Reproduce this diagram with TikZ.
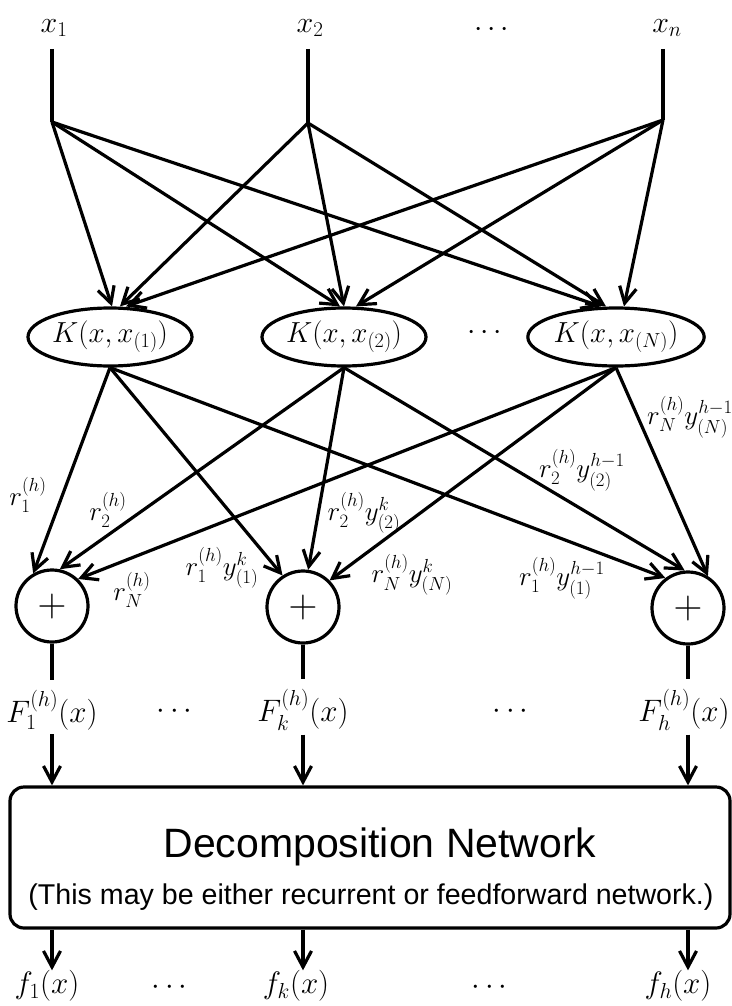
\RequirePackage{fix-cm}
\documentclass[tikz,border=0pt]{standalone}
\usepackage{amsmath}
\usepackage{fontspec}
\newfontfamily\netfont{Liberation Sans}
\usetikzlibrary{arrows.meta,shapes.geometric}

\tikzset{
  net/.style={line width=3.2pt},
  arr/.style={net,-{Straight Barb[length=16pt,width=17pt]}},
  kernel/.style={draw,ellipse,net,minimum width=164pt,minimum height=58pt,inner sep=0pt,font=\fontsize{29}{32}\selectfont},
  adder/.style={draw,circle,net,minimum size=72pt,inner sep=0pt,font=\fontsize{40}{44}\selectfont},
  inlab/.style={inner sep=0pt,font=\fontsize{30}{34}\selectfont},
  wlab/.style={inner sep=0pt,font=\fontsize{27}{30}\selectfont},
  outlab/.style={inner sep=0pt,font=\fontsize{31}{34}\selectfont},
  decnet/.style={draw,net,rounded corners=14pt,minimum width=720pt,minimum height=141pt},
}

\begin{document}
\begin{tikzpicture}[x=1pt,y=-1pt]
\useasboundingbox (0,0) rectangle (731,1006);

% inputs
\node[inlab] (in1) at (54,28) {$x_1$};
\node[inlab] (in2) at (310,28) {$x_2$};
\node[inlab] (indots) at (494,30) {$\cdots$};
\node[inlab] (inn) at (667,28) {$x_n$};
\coordinate (s1) at (52,122);
\coordinate (s2) at (308,123);
\coordinate (sn) at (663,120);
\draw[net,shorten <=12pt] (in1.south -| s1) -- (s1);
\draw[net,shorten <=12pt] (in2.south -| s2) -- (s2);
\draw[net,shorten <=12pt] (inn.south -| sn) -- (sn);

% kernels
\node[kernel] (k1) at (110,337) {$K(x,x_{(1)})$};
\node[kernel] (k2) at (344,337) {$K(x,x_{(2)})$};
\node[inlab] (kdots) at (487,333) {$\cdots$};
\node[kernel] (kn) at (616,337) {$K(x,x_{(N)})$};

\foreach \s/\a/\b/\c in {s1/2/-4/-15, s2/10/0/-10, sn/16/12/8}{
  \draw[arr] (\s) -- ([xshift=\a pt]k1.north);
  \draw[arr] (\s) -- ([xshift=\b pt]k2.north);
  \draw[arr] (\s) -- ([xshift=\c pt]kn.north);
}

% adders
\node[adder] (p1) at (52,606) {$+$};
\node[adder] (p2) at (303,607) {$+$};
\node[adder] (p3) at (688,608) {$+$};

\draw[arr] (k1.south) -- (p1.120);
\draw[arr] (k1.south) -- (p2.123);
\draw[arr] (k1.south) -- (p3.127);
\draw[arr] (k2.south) -- (p1.78);
\draw[arr] (k2.south) -- (p2.82);
\draw[arr] (k2.south) -- (p3.95);
\draw[arr] (kn.south) -- (p1.46);
\draw[arr] (kn.south) -- (p2.45);
\draw[arr] (kn.south) -- (p3.58);

% weights
\node[wlab] (w11) at (28,495) {$r_1^{(h)}$};
\node[wlab] (w21) at (108,510) {$r_2^{(h)}$};
\node[wlab] (wn1) at (132,590) {$r_N^{(h)}$};
\node[wlab] (w12) at (222,568) {$r_1^{(h)}y_{(1)}^k$};
\node[wlab] (w22) at (364,513) {$r_2^{(h)}y_{(2)}^k$};
\node[wlab] (wn2) at (412,575) {$r_N^{(h)}y_{(N)}^k$};
\node[wlab] (w13) at (562,578) {$r_1^{(h)}y_{(1)}^{h-1}$};
\node[wlab] (w23) at (582,470) {$r_2^{(h)}y_{(2)}^{h-1}$};
\node[wlab] (wn3) at (690,417) {$r_N^{(h)}y_{(N)}^{h-1}$};

% sums
\node[outlab] (F1) at (52,710) {$F_1^{(h)}(x)$};
\node[outlab] (Fdots1) at (177,712) {$\cdots$};
\node[outlab] (Fk) at (303,710) {$F_k^{(h)}(x)$};
\node[outlab] (Fdots2) at (513,712) {$\cdots$};
\node[outlab] (Fh) at (684,710) {$F_h^{(h)}(x)$};
\draw[net,shorten >=10pt] (p1) -- (p1 |- F1.north);
\draw[net,shorten >=10pt] (p2) -- (p2 |- Fk.north);
\draw[net,shorten >=10pt] (p3) -- (p3 |- Fh.north);

% decomposition network
\node[decnet] (dec) at (370,857.5) {};
\node[font=\netfont\fontsize{41}{44}\selectfont] (title) at (380,847) {Decomposition Network};
\node[font=\netfont\fontsize{28.6}{32}\selectfont] (note) at (371,897) {(This may be either recurrent or feedforward network.)};
\draw[arr,shorten <=4pt] (F1.south -| p1) -- (p1 |- dec.north);
\draw[arr,shorten <=4pt] (Fk.south -| p2) -- (p2 |- dec.north);
\draw[arr,shorten <=4pt] (Fh.south -| p3) -- (p3 |- dec.north);

% outputs
\node[outlab] (f1) at (47,986) {$f_1(x)$};
\node[outlab] (fdots1) at (172,988) {$\cdots$};
\node[outlab] (fk) at (296,986) {$f_k(x)$};
\node[outlab] (fdots2) at (492,988) {$\cdots$};
\node[outlab] (fh) at (678,986) {$f_h(x)$};
\draw[arr] (dec.south -| p1) -- (p1 |- f1.north);
\draw[arr] (dec.south -| p2) -- (p2 |- fk.north);
\draw[arr] (dec.south -| p3) -- (p3 |- fh.north);
\end{tikzpicture}
\end{document}
